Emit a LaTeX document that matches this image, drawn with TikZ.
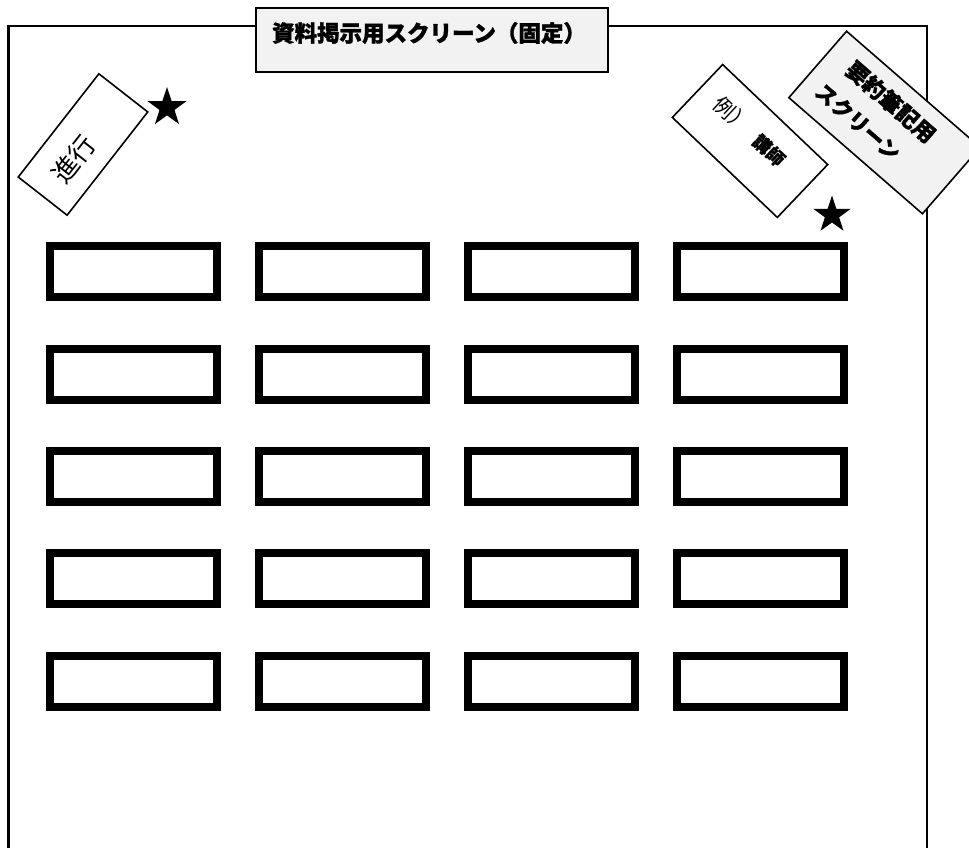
\documentclass[tikz,border=0pt]{standalone}
\usepackage{fontspec}
\newfontfamily\jp{Noto Sans CJK JP}
\newfontfamily\jpheavy{Noto Sans CJK JP}[FakeBold=1.3]
\newfontfamily\jpsemi{Noto Sans CJK JP}[FakeBold=0.5]
\usetikzlibrary{shapes.geometric}
\begin{document}
\begin{tikzpicture}[x=1pt,y=-1pt,
  wall/.style={line width=2.6pt},
  desk/.style={draw,line width=8pt,minimum width=167pt,minimum height=51pt,inner sep=0pt},
  tag/.style={draw,line width=1.6pt,inner sep=0pt},
  gray/.style={fill=black!5},
  pop/.style={inner sep=0pt,font=\jpheavy\bfseries},
  starmark/.style={star,star points=5,star point ratio=2.6,fill=black,minimum size=41pt,inner sep=0pt}]
\useasboundingbox (0,0) rectangle (969,848);
% walls
\coordinate (wl) at (8.5,848);
\coordinate (wr) at (927,848);
\node[draw,line width=2pt,gray,minimum width=352pt,minimum height=64pt,inner sep=0pt] (screen) at (432,40) {};
\node[pop] (screentext) at (429,33) {\fontsize{22.5}{22.5}\selectfont 資料掲示用スクリーン（固定）};
\draw[wall] (screen.west |- 0,26) -- (wl |- 0,26) -- (wl);
\draw[wall] (screen.east |- 0,26) -- (wr |- 0,26) -- (wr);
% tags
\node[tag,minimum width=131pt,minimum height=62pt,rotate=52,fill=white] (shinko) at (83,144.5) {};
\node[font=\jp,rotate=52,inner sep=0pt] (shinkotext) at (74,159) {\fontsize{26}{26}\selectfont 進行};
\node[tag,minimum width=145pt,minimum height=73pt,rotate=-43.6,fill=white] (koshi) at (750,141) {};
\node[rotate=-43,inner sep=0pt] (koshitext) at (750,131) {\jp\fontsize{21}{21}\selectfont 例）\hspace{12pt}{\jpsemi\bfseries\fontsize{18}{18}\selectfont 講師}};
\node[tag,gray,minimum width=177pt,minimum height=88pt,rotate=-41] (yoyaku) at (884.5,122.5) {};
\node[pop,rotate=-41] (yoyakutext1) at (891,102) {\fontsize{22}{22}\selectfont 要約筆記用};
\node[pop,rotate=-41] (yoyakutext2) at (858,122) {\fontsize{21}{21}\selectfont スクリーン};
% stars
\node[starmark] (star1) at (167,107.5) {};
\node[starmark,minimum size=39pt] (star2) at (832,215) {};
% desks
\foreach \r/\y in {1/271.5,2/374.5,3/476.5,4/578.5,5/681.5}{
  \foreach \c/\x in {1/133.5,2/342.5,3/551.5,4/760.5}{
    \node[desk] (d\r\c) at (\x,\y) {};
  }
}
\end{tikzpicture}
\end{document}
